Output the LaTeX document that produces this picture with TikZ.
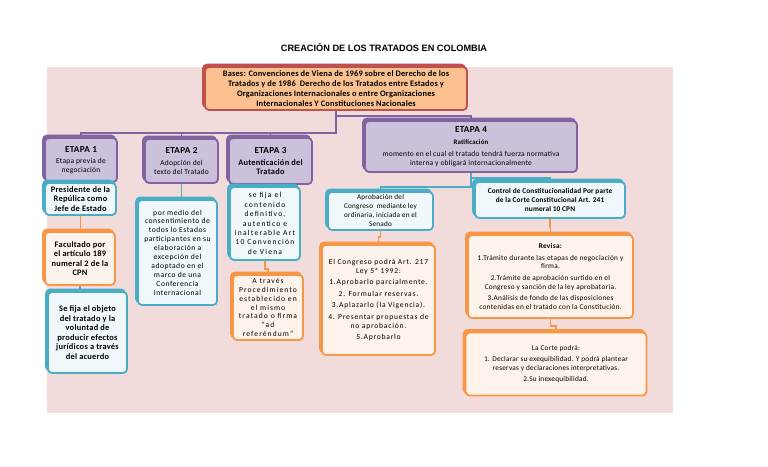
\documentclass[tikz,border=0pt]{standalone}
\usepackage{fontspec}
\setmainfont{Carlito}
\newfontfamily\titlefont{Liberation Sans}
\usetikzlibrary{shadows,backgrounds}

\definecolor{bgpink}{RGB}{242,220,219}
\definecolor{lila}{RGB}{128,100,162}
\definecolor{lilafill}{RGB}{204,193,218}
\definecolor{turq}{RGB}{75,172,198}
\definecolor{turqfill}{RGB}{240,248,251}
\definecolor{naranja}{RGB}{247,150,70}
\definecolor{naranjafill}{RGB}{254,243,234}
\definecolor{rojo}{RGB}{192,80,77}
\definecolor{basesfill}{RGB}{250,192,144}

\newcommand\fuente[3]{\fontsize{#1}{#2}\selectfont\addfontfeature{LetterSpace=#3}}
\newcommand\etapatit{\bfseries\fontsize{9.2}{10.5}\selectfont}
\newcommand\etapasub{\bfseries\fontsize{8.4}{10.5}\selectfont}

\begin{document}
\begin{tikzpicture}[
  x=1pt,y=-1pt,
  every node/.style={align=center,inner sep=1pt,rounded corners=4pt},
  basesbox/.style={draw=rojo,line width=1.8pt,fill=basesfill,general shadow={fill=rojo,draw=rojo,shadow xshift=-2pt,shadow yshift=2.5pt},font=\bfseries\fuente{8.4}{10.2}{2}},
  etapabox/.style={draw=lila,line width=1.8pt,fill=lilafill,general shadow={fill=lila,draw=lila,shadow xshift=-2pt,shadow yshift=2.5pt},font=\fuente{7.5}{9}{3}},
  tealbox/.style={draw=turq,line width=1.8pt,fill=turqfill,general shadow={fill=turq,draw=turq,shadow xshift=-2pt,shadow yshift=2.5pt}},
  orangebox/.style={draw=naranja,line width=1.8pt,fill=naranjafill,general shadow={fill=naranja,draw=naranja,shadow xshift=-2pt,shadow yshift=2.5pt}},
  negrita/.style={font=\bfseries\fuente{8.4}{9.6}{3}},
  lilaline/.style={draw=lila,line width=1.4pt},
  tealline/.style={draw=turq,line width=1.2pt},
  orangeline/.style={draw=naranja,line width=1.2pt}
]
  \useasboundingbox (0,0) rectangle (768,466);
  \node[font=\titlefont\bfseries\fontsize{9.2}{11}\selectfont] (titulo) at (384,47) {CREACIÓN DE LOS TRATADOS EN COLOMBIA};

  \node[basesbox,minimum width=262pt,minimum height=43pt] (bases) at (336,88.5)
    {Bases: Convenciones de Viena de 1969 sobre el Derecho de los\\Tratados y de 1986\ \ Derecho de los Tratados entre Estados y\\Organizaciones Internacionales o entre Organizaciones\\Internacionales Y Constituciones Nacionales};

  \node[etapabox,minimum width=72pt,minimum height=44pt] (etapa1) at (81,160)
    {{\etapatit ETAPA 1}\\[2pt]Etapa previa de\\negociación};
  \node[etapabox,minimum width=73pt,minimum height=44pt] (etapa2) at (181.5,161)
    {{\etapatit ETAPA 2}\\[3pt]Adopción del\\texto del Tratado};
  \node[etapabox,minimum width=83pt,minimum height=46pt] (etapa3) at (270.5,161)
    {{\etapatit ETAPA 3}\\[3pt]{\etapasub Autenticación del}\\{\etapasub Tratado}};
  \node[etapabox,minimum width=212pt,minimum height=51pt] (etapa4) at (471,146.5)
    {{\etapatit ETAPA 4}\\[3pt]{\bfseries\fontsize{6.8}{8}\selectfont Ratificación}\\[3pt]momento en el cual el tratado tendrá fuerza normativa\\interna y obligará internacionalmente};

  \node[tealbox,negrita,minimum width=71pt,minimum height=32pt] (presidente) at (80.5,199)
    {Presidente de la\\Repúlica como\\Jefe de Estado};
  \node[orangebox,negrita,minimum width=70pt,minimum height=53pt] (facultado) at (80,258.5)
    {Facultado por\\el artículo 189\\numeral 2 de la\\CPN};
  \node[tealbox,negrita,minimum width=79pt,minimum height=81pt] (objeto) at (87.5,332.5)
    {Se fija el objeto\\del tratado y la\\voluntad de\\producir efectos\\jurídicos a través\\del acuerdo};

  \node[tealbox,font=\fuente{7.6}{8.9}{7},minimum width=79pt,minimum height=105pt] (consentimiento) at (177.5,252.5)
    {por medio del\\consentimiento de\\todos lo Estados\\participantes en su\\elaboración a\\excepción del\\adoptado en el\\marco de una\\Conferencia\\Internacional};

  \node[tealbox,font=\fuente{7.6}{9.4}{16},minimum width=70pt,minimum height=73pt] (contenido) at (265,223.5)
    {se fija el\\contenido\\definitivo,\\autentico e\\inalterable Art\\10 Convención\\de Viena};
  \node[orangebox,font=\fuente{7.6}{8.9}{14},minimum width=70pt,minimum height=65pt] (atraves) at (268,307.5)
    {A través\\Procedimiento\\establecido en\\el mismo\\tratado o firma\\``ad\\referéndum''};

  \node[tealbox,font=\fuente{7.2}{9}{3},minimum width=105pt,minimum height=38pt] (aprobacion) at (380.5,211)
    {Aprobación del\\Congreso\ \ mediante ley\\ordinaria, iniciada en el\\Senado};
  \node[orangebox,font=\fuente{7.6}{8.6}{10},minimum width=113pt,minimum height=110pt] (congreso) at (378.5,300)
    {El Congreso podrá Art. 217\\Ley 5ª 1992:\\[3pt]1.Aprobarlo parcialmente.\\[3pt]2. Formular reservas.\\[3pt]3.Aplazarlo (la Vigencia).\\[3pt]4. Presentar propuestas de\\no aprobación.\\[3pt]5.Aprobarlo};

  \node[tealbox,font=\bfseries\fuente{7.3}{9}{2},minimum width=150pt,minimum height=36pt] (control) at (550,200)
    {Control de Constitucionalidad Por parte\\de la Corte Constitucional Art. 241\\numeral 10 CPN};
  \node[orangebox,font=\fuente{7.3}{8.6}{4},minimum width=165pt,minimum height=83pt] (revisa) at (550.5,276.5)
    {\textbf{Revisa:}\\[3pt]1.Trámite durante las etapas de negociación y\\firma.\\[3pt]2.Trámite de aprobación surtido en el\\Congreso y sanción de la ley aprobatoria.\\[3pt]3.Análisis de fondo de las disposiciones\\contenidas en el tratado con la Constitución.};
  \node[orangebox,font=\fuente{7.3}{8.6}{3},minimum width=181pt,minimum height=63pt] (corte) at (556,364)
    {La Corte podrá:\\[3pt]1. Declarar su exequibilidad. Y podrá plantear\\reservas y declaraciones interpretativas.\\[3pt]2.Su inexequibilidad.};

  \begin{scope}[on background layer]
    \fill[bgpink] (47,67) rectangle (673,413);
    \draw[lilaline] (bases.south) -- ++(0,22) coordinate (ramal) -| (etapa1.north);
    \draw[lilaline] (ramal) -| (etapa2.north);
    \draw[lilaline] (ramal) -| (etapa3.north);
    \draw[lilaline] (bases.south) -- ++(0,5) -| (etapa4.north);
    \draw[tealline] (etapa1.south) -- (etapa1.south |- presidente.north);
    \draw[orangeline] (presidente.south) -- (presidente.south |- facultado.north);
    \draw[tealline] (facultado.south) -- ++(0,4) -| (objeto.north);
    \draw[tealline] (etapa2.south) -- ++(0,14) -| (consentimiento.north);
    \draw[tealline] (etapa3.south) -- ++(0,2) -| (contenido.north);
    \draw[orangeline] (contenido.south) -- ++(0,8) -| (atraves.north);
    \draw[tealline] (etapa4.south) -- ++(0,14) -| (aprobacion.north);
    \draw[tealline] (etapa4.south) -- ++(0,5) -| (control.north);
    \draw[orangeline] (aprobacion.south) -- ++(0,6) -| (congreso.north);
    \draw[orangeline] (control.south) -- ++(0,8) -| (revisa.north);
    \draw[orangeline] (revisa.south) -- ++(0,7) -| (corte.north);
  \end{scope}
\end{tikzpicture}
\end{document}
